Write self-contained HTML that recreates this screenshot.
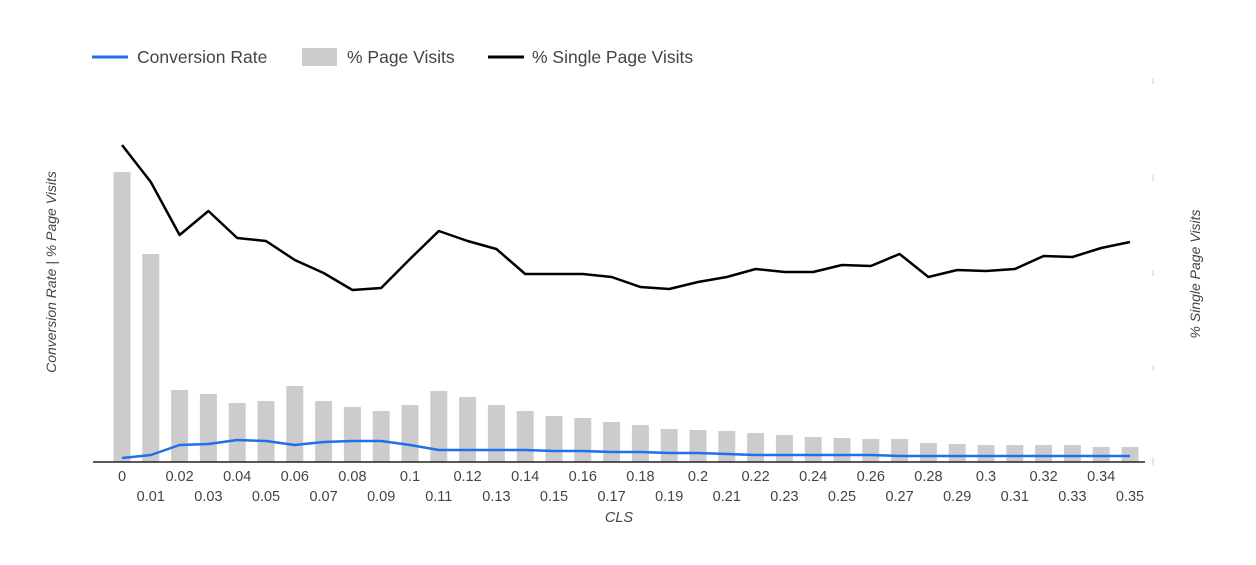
<!DOCTYPE html>
<html><head><style>body{margin:0;background:#fff}</style></head><body>
<svg width="1256" height="560" xmlns="http://www.w3.org/2000/svg" font-family="Liberation Sans, sans-serif">
<rect width="1256" height="560" fill="#fff"/>
<line x1="92" y1="57" x2="128" y2="57" stroke="#1a73e8" stroke-width="3"/>
<text x="137" y="63" font-size="17.5" fill="#444">Conversion Rate</text>
<rect x="302" y="48" width="35" height="18" fill="#cccccc"/>
<text x="347" y="63" font-size="17.5" fill="#444">% Page Visits</text>
<line x1="488" y1="57" x2="524" y2="57" stroke="#000" stroke-width="3"/>
<text x="532" y="63" font-size="17.5" fill="#444">% Single Page Visits</text>
<g stroke="#ccc" stroke-width="1"><line x1="1153" y1="78" x2="1153" y2="84"/><line x1="1153" y1="175" x2="1153" y2="181"/><line x1="1153" y1="270" x2="1153" y2="276"/><line x1="1153" y1="365" x2="1153" y2="371"/><line x1="1153" y1="457" x2="1153" y2="465"/></g>
<g id="bars" fill="#cccccc"></g>
<line x1="93" y1="462" x2="1145" y2="462" stroke="#222" stroke-width="1.5"/>
<polyline id="blk" fill="none" stroke="#000" stroke-width="2.5" stroke-linejoin="round"/>
<polyline id="blu" fill="none" stroke="#1a73e8" stroke-width="2.5" stroke-linejoin="round"/>
<g id="lbl" font-size="14.5" fill="#444" text-anchor="middle"></g>
<text x="619" y="522" font-size="14.5" font-style="italic" fill="#444" text-anchor="middle">CLS</text>
<text transform="translate(56,272) rotate(-90)" font-size="14" font-style="italic" fill="#444" text-anchor="middle">Conversion Rate | % Page Visits</text>
<text transform="translate(1200,274) rotate(-90)" font-size="14" font-style="italic" fill="#444" text-anchor="middle">% Single Page Visits</text>
</svg>
<script>
var bars=[172,254,390,394,403,401,386,401,407,411,405,391,397,405,411,416,418,422,425,429,430,431,433,435,437,438,439,439,443,444,445,445,445,445,447,447];
var blk=[145,182,235,211,238,241,260,273,290,288,259,231,241,249,274,274,274,277,287,289,282,277,269,272,272,265,266,254,277,270,271,269,256,257,248,242];
var blu=[458,455,445,444,440,441,445,442,441,441,445,450,450,450,450,451,451,452,452,453,453,454,455,455,455,455,455,456,456,456,456,456,456,456,456,456];
var ns="http://www.w3.org/2000/svg",g=document.getElementById('bars'),l=document.getElementById('lbl'),p1=[],p2=[];
for(var i=0;i<36;i++){var x=122+i*28.8;
var r=document.createElementNS(ns,'rect');r.setAttribute('x',x-8.5);r.setAttribute('y',bars[i]);r.setAttribute('width',17);r.setAttribute('height',462-bars[i]);g.appendChild(r);
p1.push(x+','+blk[i]);p2.push(x+','+blu[i]);
var t=document.createElementNS(ns,'text');t.setAttribute('x',x);t.setAttribute('y',i%2?501:481);t.textContent=String(Math.round(i)/100);l.appendChild(t);}
document.getElementById('blk').setAttribute('points',p1.join(' '));
document.getElementById('blu').setAttribute('points',p2.join(' '));
</script>
</body></html>
